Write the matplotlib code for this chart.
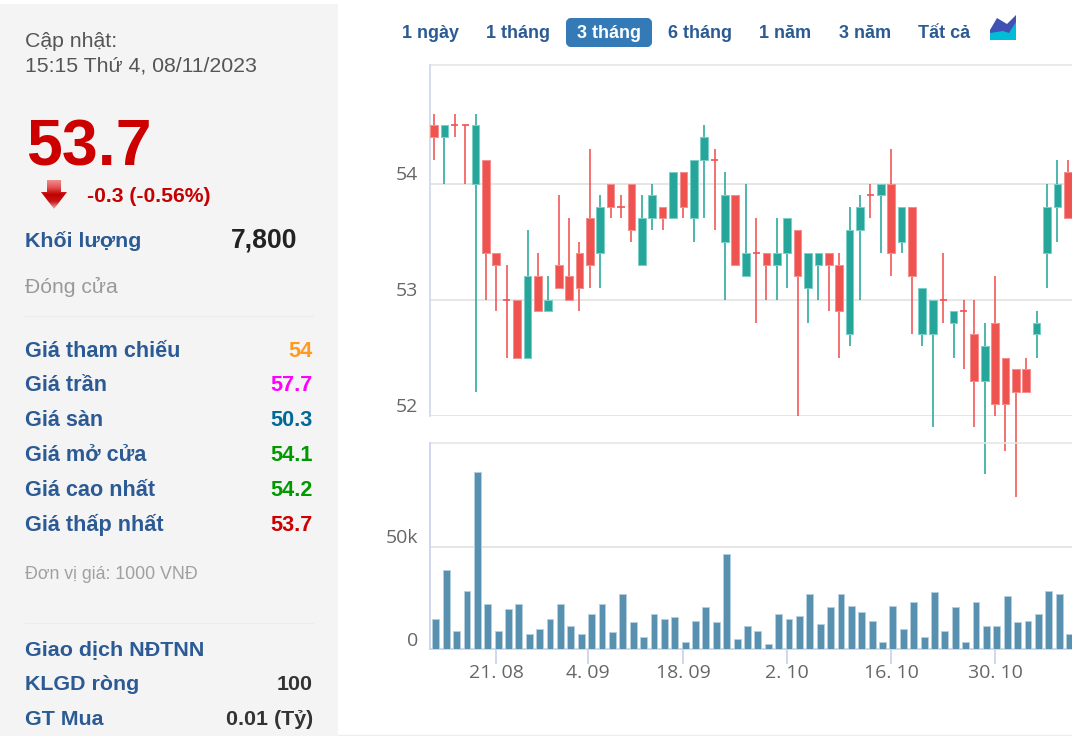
import matplotlib
matplotlib.use("Agg")
import matplotlib.pyplot as plt
from matplotlib.patches import FancyBboxPatch, Polygon, Rectangle
import numpy as np

# ---- data ----
opens = [54.5,54.4,54.5,54.5,54.0,54.2,53.4,53.0,53.0,52.5,53.2,52.9,53.3,53.2,53.4,53.7,53.4,54.0,53.8,54.0,53.3,53.7,53.8,53.7,54.1,53.7,54.2,54.2,53.5,53.9,53.2,
         53.4,53.4,53.3,53.4,53.6,53.1,53.3,53.4,53.3,52.7,53.6,53.9,53.9,54.0,53.5,53.8,52.7,52.7,53.0,52.8,52.9,52.7,52.3,52.8,52.5,52.4,52.4,52.7,53.4,53.8,54.1]
highs = [54.6,54.5,54.6,54.5,54.6,54.2,53.4,53.3,53.0,53.6,53.4,53.2,53.9,53.7,53.5,54.3,53.9,54.0,53.9,54.0,53.9,54.0,53.8,54.1,54.1,54.2,54.5,54.3,54.1,53.9,54.0,
         53.7,53.4,53.7,53.7,53.6,53.4,53.4,53.4,53.4,53.8,53.9,54.0,54.0,54.3,53.8,53.8,53.1,53.0,53.4,52.9,53.0,53.0,52.8,53.2,52.5,52.4,52.5,52.9,54.0,54.2,54.2]
lows = [54.2,54.0,54.4,54.0,52.2,53.0,52.9,52.5,52.5,52.5,52.9,52.9,53.1,53.0,52.9,53.1,53.1,53.7,53.7,53.5,53.3,53.6,53.6,53.7,53.7,53.5,53.7,53.6,53.0,53.3,53.2,
        52.8,53.0,53.0,53.1,52.0,52.8,53.0,52.9,52.5,52.6,53.0,53.7,53.4,53.2,53.4,52.7,52.6,51.9,52.8,52.5,52.4,51.9,51.5,52.0,51.7,51.3,52.2,52.5,53.1,53.5,53.7]
closes = [54.4,54.5,54.5,54.5,54.5,53.4,53.3,53.0,52.5,53.2,52.9,53.0,53.1,53.0,53.1,53.3,53.8,53.8,53.8,53.6,53.7,53.9,53.7,54.1,53.8,54.2,54.4,54.2,53.9,53.3,53.4,
          53.4,53.3,53.4,53.7,53.2,53.4,53.4,53.3,52.9,53.6,53.8,53.9,54.0,53.4,53.8,53.2,53.1,53.0,53.0,52.9,52.9,52.3,52.6,52.1,52.1,52.2,52.2,52.8,53.8,54.0,53.7]
volumes = [14.7,38.3,9.0,28.5,86.3,22.0,9.0,19.5,22.0,7.3,9.8,14.7,22.0,11.4,7.3,17.1,22.0,8.1,26.9,13.0,5.7,17.1,14.7,15.5,3.3,13.8,20.4,13.0,46.1,4.9,11.4,
           9.0,2.4,17.1,14.7,16.3,26.9,12.2,20.4,26.9,21.2,17.9,13.8,3.4,21.2,9.8,22.8,5.7,27.7,9.0,20.4,3.4,22.8,11.4,11.4,26.0,13.0,13.8,17.1,28.5,26.9,7.3]
date_ticks = [6, 14.85, 24, 34, 44, 54]
date_labels = ["21. 08", "4. 09", "18. 09", "2. 10", "16. 10", "30. 10"]
price_ticks = [52, 53, 54]
vol_ticks = [0, 50]
vol_tick_labels = ["0", "50k"]

range_buttons = ["1 ngày", "1 tháng", "3 tháng", "6 tháng", "1 năm", "3 năm", "Tất cả"]
stat_labels = ["Giá tham chiếu", "Giá trần", "Giá sàn", "Giá mở cửa", "Giá cao nhất", "Giá thấp nhất"]
stat_values = ["54", "57.7", "50.3", "54.1", "54.2", "53.7"]
stat_colors = ["#ff9a1f", "#ff00ff", "#00699a", "#009a00", "#009a00", "#cc0000"]

W, H = 1072, 736
RED, TEAL, VOLC = "#ef5350", "#26a69a", "#5890b0"
RED_E, TEAL_E = "#f58f8d", "#7ccfc7"
BLUE, AXISC, GRIDC = "#2b5a94", "#ccd6eb", "#e6e6e6"
SANS = "Liberation Sans"

def px(v):
    return v * 0.72

fig = plt.figure(figsize=(W / 100, H / 100), dpi=100, facecolor="white")

def axes_px(x0, y0, x1, y1, **kw):
    return fig.add_axes([x0 / W, 1 - y1 / H, (x1 - x0) / W, (y1 - y0) / H], **kw)

# x scale: index 0 sits at 434 px, 10.39 px per session
xl = ((430 - 434) / 10.39, (1072 - 434) / 10.39)
idx = np.arange(len(opens))
TICKC = "#666666"
TICKF = "Open Sans"
TICKS = 19.5

# ---- price panel ----
ax = axes_px(430, 65, 1072, 416)
ax.set_xlim(*xl)
ax.set_ylim(52 - 0.3 / 116, 54 + (183.4 - 65) / 116)
ax.patch.set_alpha(0)
for s in ("top", "right", "bottom"):
    ax.spines[s].set_visible(False)
ax.spines["left"].set_color(AXISC)
ax.spines["left"].set_linewidth(1.2)
ax.set_xticks([])
ax.set_yticks(price_ticks)
ax.set_yticklabels([])
ax.tick_params(axis="y", length=0)
ax.grid(axis="y", color=GRIDC, lw=1.4, zorder=0)
ax.axhline(ax.get_ylim()[1], color=GRIDC, lw=1.2, clip_on=False)
for t in price_ticks:
    ax.annotate(str(t), (0, t), xycoords=("axes fraction", "data"), xytext=(-8.3, 2.6),
                textcoords="offset points", ha="right", va="baseline",
                fontsize=px(TICKS), color=TICKC, family=TICKF)

o, h, l, c = map(np.array, (opens, highs, lows, closes))
colors = np.where(c > o, TEAL, RED)
edges = np.where(c > o, TEAL_E, RED_E)
ax.vlines(idx, l, h, colors=colors, lw=1.15, zorder=3, clip_on=False)
body = np.abs(c - o)
mask = body > 0
ax.bar(idx[mask], body[mask], bottom=np.minimum(o, c)[mask], width=0.74,
       color=colors[mask], edgecolor=edges[mask], lw=0.75, zorder=4, clip_on=True)
ax.hlines(o[~mask], idx[~mask] - 0.34, idx[~mask] + 0.34, colors=colors[~mask], lw=1.2, zorder=4)

# ---- volume panel ----
vx = axes_px(430, 443, 1072, 649)
vx.set_xlim(*xl)
vx.set_ylim(0, (648.6 - 443) / 102.3 * 50)
vx.patch.set_alpha(0)
for s in ("top", "right"):
    vx.spines[s].set_visible(False)
for s in ("left", "bottom"):
    vx.spines[s].set_color(AXISC)
    vx.spines[s].set_linewidth(1.3)
vx.axhline(vx.get_ylim()[1], color=GRIDC, lw=1.2, clip_on=False)
vx.bar(idx + 0.17, volumes, width=0.66, color=VOLC, edgecolor="#b6cfdf", lw=0.7, zorder=3)
vx.set_yticks(vol_ticks)
vx.set_yticklabels([])
vx.tick_params(axis="y", length=0)
vx.grid(axis="y", color=GRIDC, lw=1.4, zorder=0)
for t, lab in zip(vol_ticks, vol_tick_labels):
    vx.annotate(lab, (0, t), xycoords=("axes fraction", "data"), xytext=(-8.3, 2.4),
                textcoords="offset points", ha="right", va="baseline",
                fontsize=px(TICKS), color=TICKC, family=TICKF)
vx.set_xticks(date_ticks)
vx.set_xticklabels(date_labels, fontsize=px(TICKS), color=TICKC, family=TICKF)
vx.tick_params(axis="x", length=px(15), width=1.3, color=AXISC, pad=px(0))

# ---- page layer in pixel coordinates ----
ov = fig.add_axes([0, 0, 1, 1], zorder=-1)
ov.set_xlim(0, W)
ov.set_ylim(H, 0)
ov.axis("off")
ov.add_patch(Rectangle((0, 4), 338, H - 4, color="#f4f4f4", lw=0))
ov.plot([338, W], [735, 735], color="#eeeeee", lw=1)

ft = fig.add_axes([0, 0, 1, 1], zorder=5)
ft.set_xlim(0, W)
ft.set_ylim(H, 0)
ft.axis("off")
ft.patch.set_alpha(0)

def T(x, y, s, size, color, bold=False, ha="left"):
    ft.text(x, y, s, fontsize=px(size), color=color, ha=ha, va="baseline", family=SANS,
            fontweight="bold" if bold else "normal")

T(25, 47, "Cập nhật:", 21.3, "#555555")
T(25, 72, "15:15 Thứ 4, 08/11/2023", 21.3, "#555555")
T(26, 165, "53.7", 64.5, "#cc0000", True)
T(87, 202, "-0.3 (-0.56%)", 21.2, "#c40000", True)
T(25, 247, "Khối lượng", 21.4, BLUE, True)
T(297, 247, "7,800", 26.5, "#222222", True, ha="right")
T(25, 293, "Đóng cửa", 21.2, "#999999")
ft.plot([25, 313], [315.5, 315.5], color="#ececec", lw=0.8)
for y, lab, val, col in zip([357, 391, 426, 461, 496, 531], stat_labels, stat_values, stat_colors):
    T(25, y, lab, 21.6, BLUE, True)
    T(313, y, val, 21.6, col, True, ha="right")
T(25, 579, "Đơn vị giá: 1000 VNĐ", 17.8, "#a0a0a0")
ft.plot([25, 313], [622.5, 622.5], color="#ececec", lw=0.8)
T(25, 655, "Giao dịch NĐTNN", 21.5, BLUE, True)
T(25, 690, "KLGD ròng", 21.4, BLUE, True)
T(313, 690, "100", 21.4, "#333333", True, ha="right")
T(25, 725, "GT Mua", 21.4, BLUE, True)
T(313, 725, "0.01 (Tỷ)", 21.4, "#333333", True, ha="right")

# down arrow with gradient
arrow = Polygon([(47, 180), (61, 180), (61, 192), (67, 192), (54, 209), (41, 192), (47, 192)],
                closed=True, transform=ft.transData, fc="none", ec="none")
ft.add_patch(arrow)
grad = np.linspace(0, 1, 30)[:, None]
cm = matplotlib.colors.LinearSegmentedColormap.from_list("a", ["#f08a8a", "#e25050", "#c00000", "#c81515", "#e8b0b0"])
im = ft.imshow(grad, extent=(41, 67, 209, 180), cmap=cm, aspect="auto", zorder=2)
im.set_clip_path(arrow)
ft.set_xlim(0, W)
ft.set_ylim(H, 0)

# range buttons
ft.add_patch(FancyBboxPatch((568, 20), 82, 25, boxstyle="round,pad=0,rounding_size=3",
                            mutation_aspect=1, fc="#337ab7", ec="#337ab7", lw=4 * 0.72, zorder=1))
for cx, lab in zip([430, 518, 609, 700.5, 785.5, 865, 944.5], range_buttons):
    ft.text(cx, 38, lab, fontsize=px(18), ha="center", va="baseline", family=SANS, fontweight="bold",
            color="white" if lab == "3 tháng" else BLUE, zorder=3)

# chart-type icon
ft.add_patch(Polygon([(990, 30), (997, 18), (1007, 24), (1016, 15), (1016, 40), (990, 40)], fc="#3f51b5", ec="none"))
ft.add_patch(Polygon([(990, 33), (1003, 31), (1009, 33), (1016, 22), (1016, 40), (990, 40)], fc="#00bcd4", ec="none"))

fig.savefig("out.png", dpi=100, facecolor="white")
